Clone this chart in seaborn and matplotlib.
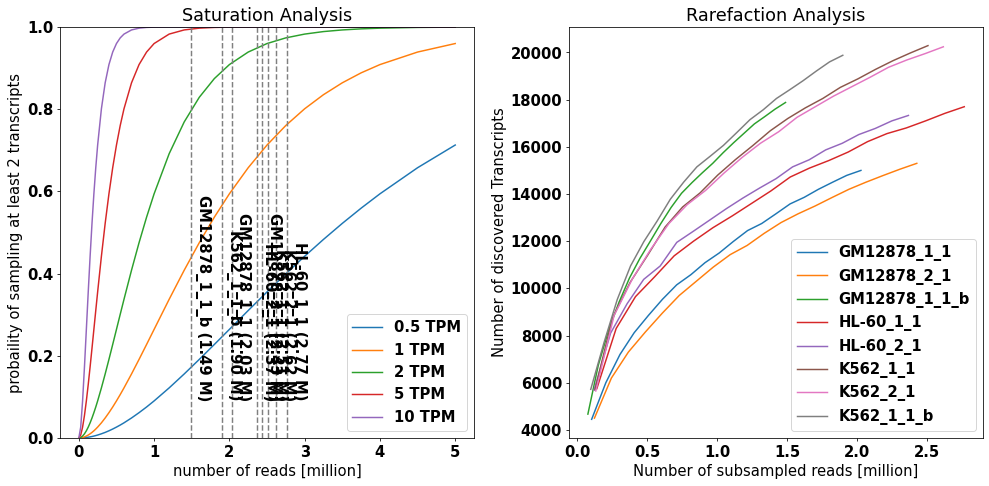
"""
Saturation and rarefaction analysis of the long-read samples.
Left: chance of seeing a transcript at least twice vs. sequencing depth.
Right: discovered transcripts when subsampling reads.
"""

import matplotlib
matplotlib.use("Agg")
import matplotlib.pyplot as plt
import pandas as pd
import seaborn as sns

plt.rcParams['font.size'] = 15
plt.rcParams['font.weight'] = 'bold'

# saturation curves
reads_m = [0, 0.025, 0.05, 0.075, 0.1, 0.125, 0.15, 0.175, 0.2, 0.225, 0.25, 0.3,
           0.35, 0.4, 0.45, 0.5, 0.55, 0.6, 0.7, 0.8, 0.9, 1.0, 1.2, 1.4, 1.6, 1.8,
           2.0, 2.25, 2.5, 2.75, 3.0, 3.25, 3.5, 3.75, 4.0, 4.5, 5.0]
tpm_labels = ['0.5 TPM', '1 TPM', '2 TPM', '5 TPM', '10 TPM']
p_05 = [0, 0.0001, 0.0003, 0.0007, 0.0012, 0.0019, 0.0027, 0.0036, 0.0047, 0.0059,
        0.0072, 0.0102, 0.0136, 0.0175, 0.0218, 0.0265, 0.0315, 0.0369, 0.0487, 0.0616,
        0.0754, 0.0902, 0.1219, 0.1558, 0.1912, 0.2275, 0.2642, 0.3101, 0.3554, 0.3995,
        0.4422, 0.4831, 0.5221, 0.5591, 0.5940, 0.6575, 0.7127]
p_1 = [0, 0.0003, 0.0012, 0.0027, 0.0047, 0.0072, 0.0102, 0.0136, 0.0175, 0.0218,
       0.0265, 0.0369, 0.0487, 0.0616, 0.0754, 0.0902, 0.1057, 0.1219, 0.1558, 0.1912,
       0.2275, 0.2642, 0.3374, 0.4082, 0.4751, 0.5372, 0.5940, 0.6575, 0.7127, 0.7603,
       0.8009, 0.8352, 0.8641, 0.8883, 0.9084, 0.9389, 0.9596]
p_2 = [0, 0.0012, 0.0047, 0.0102, 0.0175, 0.0265, 0.0369, 0.0487, 0.0616, 0.0754,
       0.0902, 0.1219, 0.1558, 0.1912, 0.2275, 0.2642, 0.3010, 0.3374, 0.4082, 0.4751,
       0.5372, 0.5940, 0.6916, 0.7689, 0.8288, 0.8743, 0.9084, 0.9389, 0.9596, 0.9734,
       0.9826, 0.9887, 0.9927, 0.9953, 0.9970, 0.9988, 0.9995]
p_5 = [0, 0.0072, 0.0265, 0.0550, 0.0902, 0.1302, 0.1734, 0.2184, 0.2642, 0.3101,
       0.3554, 0.4422, 0.5221, 0.5940, 0.6575, 0.7127, 0.7603, 0.8009, 0.8641, 0.9084,
       0.9389, 0.9596, 0.9826, 0.9927, 0.9970, 0.9988, 0.9995, 0.9998, 1.0, 1.0,
       1.0, 1.0, 1.0, 1.0, 1.0, 1.0, 1.0]
p_10 = [0, 0.0265, 0.0902, 0.1734, 0.2642, 0.3554, 0.4422, 0.5221, 0.5940, 0.6575,
        0.7127, 0.8009, 0.8641, 0.9084, 0.9389, 0.9596, 0.9734, 0.9826, 0.9927, 0.9970,
        0.9988, 0.9995, 0.9999, 1.0, 1.0, 1.0, 1.0, 1.0, 1.0, 1.0,
        1.0, 1.0, 1.0, 1.0, 1.0, 1.0, 1.0]

# samples and their total depth (million reads)
samples = ['GM12878_1_1', 'GM12878_2_1', 'GM12878_1_1_b', 'HL-60_1_1',
           'HL-60_2_1', 'K562_1_1', 'K562_2_1', 'K562_1_1_b']
depths = [2.03, 2.43, 1.49, 2.77, 2.37, 2.51, 2.62, 1.90]

# subsampling fractions used for the rarefaction
fractions = [0.05, 0.10, 0.15, 0.20, 0.25, 0.30, 0.35, 0.40, 0.45, 0.50,
             0.55, 0.60, 0.65, 0.70, 0.75, 0.80, 0.85, 0.90, 0.95, 1.00]

gm12878_1_1 = [4450, 6000, 7200, 8120, 8850, 9540, 10150, 10580, 11090, 11500,
               11990, 12450, 12750, 13160, 13580, 13860, 14200, 14500, 14790, 15000]
gm12878_2_1 = [4500, 6200, 7300, 8150, 8950, 9700, 10300, 10900, 11430, 11820,
               12330, 12790, 13160, 13490, 13850, 14200, 14500, 14780, 15050, 15300]
gm12878_1_1_b = [4670, 6740, 8240, 9420, 10440, 11270, 12000, 12740, 13430, 14030,
                 14480, 14900, 15300, 15750, 16170, 16570, 16970, 17280, 17600, 17880]
hl60_1_1 = [5750, 8300, 9650, 10500, 11380, 12000, 12570, 13070, 13600, 14130,
            14720, 15100, 15420, 15780, 16220, 16560, 16800, 17100, 17420, 17700]
hl60_2_1 = [5690, 8100, 9350, 10380, 10950, 11950, 12420, 12900, 13380, 13830,
            14250, 14650, 15150, 15450, 15870, 16150, 16520, 16780, 17100, 17330]
k562_1_1 = [5700, 8750, 10250, 11400, 12600, 13450, 14050, 14800, 15450, 16050,
            16680, 17200, 17650, 18050, 18520, 18880, 19280, 19650, 19980, 20290]
k562_2_1 = [5650, 8850, 10400, 11650, 12750, 13550, 14150, 14880, 15550, 16150,
            16640, 17250, 17700, 18150, 18550, 18950, 19370, 19680, 19950, 20240]
k562_1_1_b = [5720, 7700, 9530, 10950, 11980, 12850, 13780, 14500, 15150, 15600,
              16060, 16600, 17150, 17570, 18050, 18420, 18800, 19210, 19600, 19880]
transcripts = [gm12878_1_1, gm12878_2_1, gm12878_1_1_b, hl60_1_1,
               hl60_2_1, k562_1_1, k562_2_1, k562_1_1_b]

# long-form tables for seaborn
sat_rows = []
for label, probs in zip(tpm_labels, [p_05, p_1, p_2, p_5, p_10]):
    for r, p in zip(reads_m, probs):
        sat_rows.append({'reads': r, 'prob': p, 'tpm': label})
df_sat = pd.DataFrame(sat_rows)

rare_rows = []
for name, depth, counts in zip(samples, depths, transcripts):
    for f, c in zip(fractions, counts):
        rare_rows.append({'reads': depth * f, 'n': c, 'sample': name})
df_rare = pd.DataFrame(rare_rows)

fig, (ax1, ax2) = plt.subplots(1, 2, figsize=(14, 6.88))
fig.subplots_adjust(left=60 / 989, right=983 / 989, bottom=1 - 438 / 486,
                    top=1 - 27 / 486, wspace=0.2295)

# Saturation
sns.lineplot(data=df_sat, x='reads', y='prob', hue='tpm', hue_order=tpm_labels,
             palette=sns.color_palette('tab10', 5), estimator=None, sort=False, ax=ax1)
for name, d in zip(samples, depths):
    ax1.axvline(d, color='gray', linestyle='--')
    ax1.text(d + 0.05, 0.1, f'{name} ({d:.2f} M)', rotation=-90,
             fontsize=15, fontweight='bold')
ax1.set_ylim(0, 1)
ax1.set_xlabel('number of reads [million]', fontweight='normal')
ax1.set_ylabel('probaility of sampling at least 2 transcripts', fontweight='normal')
ax1.set_title('Saturation Analysis', fontweight='normal')
sns.move_legend(ax1, 'lower right', title=None)

# Rarefaction
sns.lineplot(data=df_rare, x='reads', y='n', hue='sample', hue_order=samples,
             palette=sns.color_palette('tab10', 8), estimator=None, sort=False, ax=ax2)
ax2.set_xlabel('Number of subsampled reads [million]', fontweight='normal')
ax2.set_ylabel('Number of discovered Transcripts', fontweight='normal')
ax2.set_title('Rarefaction Analysis', fontweight='normal')
sns.move_legend(ax2, 'lower right', title=None)

plt.savefig('out.png', dpi=70.65)
